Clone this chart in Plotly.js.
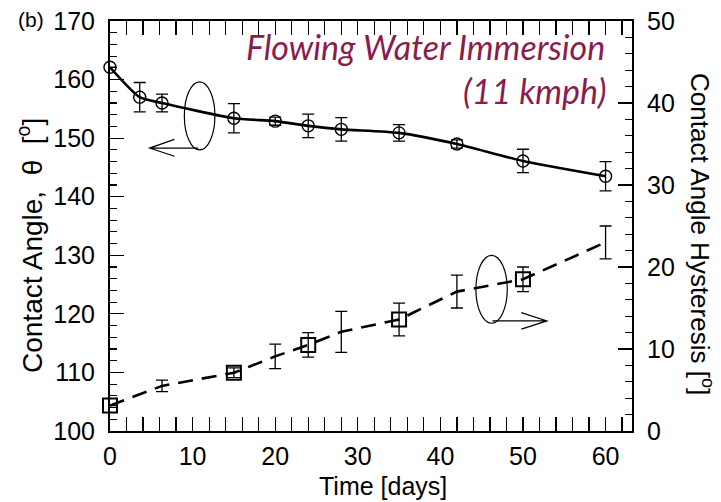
<!DOCTYPE html>
<html>
<head>
<meta charset="utf-8">
<script src="https://cdn.plot.ly/plotly-3.0.1.min.js"></script>
<style>html,body{margin:0;padding:0;background:#fff;}#chart{width:721px;height:502px;}</style>
</head>
<body>
<div id="chart"></div>
<script>
// ---- data ----
var angleDays = [0, 3.6, 6.3, 15, 20, 24, 28, 35, 42, 50, 60];
var contactAngle = [162.1, 157.0, 156.0, 153.4, 152.9, 152.1, 151.5, 150.9, 149.0, 146.1, 143.5];
var contactAngleErr = [0, 2.5, 1.5, 2.5, 0.7, 2.0, 2.0, 1.4, 0.7, 2.0, 2.5];

var hystDays = [0, 6.3, 15, 20, 24, 28, 35, 42, 50, 60];
var hysteresis = [3.1, 5.5, 7.1, 9.1, 10.5, 12.1, 13.6, 17.0, 18.5, 23.0];
var hysteresisErr = [0, 0.7, 0.6, 1.5, 1.5, 2.5, 2.0, 2.0, 1.5, 2.0];
var hystMarked = [true, false, true, false, true, false, true, false, true, false];

var xTickVals = [0, 10, 20, 30, 40, 50, 60];
var yTickVals = [100, 110, 120, 130, 140, 150, 160, 170];
var y2TickVals = [0, 10, 20, 30, 40, 50];

// ---- traces ----
var FONT = 'Liberation Sans, Arial, sans-serif';

var traceAngle = {
  x: angleDays, y: contactAngle, type: 'scatter', mode: 'lines+markers',
  yaxis: 'y', cliponaxis: false, showlegend: false,
  line: {color: '#000', width: 2.6, shape: 'spline', smoothing: 0.6},
  marker: {symbol: 'circle-open', size: 12, color: '#000', line: {width: 1.4, color: '#000'}},
  error_y: {type: 'data', array: contactAngleErr, visible: true, color: '#000', thickness: 1.3, width: 6}
};

var traceHyst = {
  x: hystDays, y: hysteresis, type: 'scatter', mode: 'lines+markers',
  yaxis: 'y2', cliponaxis: false, showlegend: false,
  line: {color: '#000', width: 2.6, dash: '15px,9px'},
  marker: {symbol: 'square-open', color: '#000', opacity: 1,
           size: hystMarked.map(function (m) { return m ? 14 : 0; }),
           line: {width: 2, color: '#000'}},
  error_y: {type: 'data', array: hysteresisErr, visible: true, color: '#000', thickness: 1.3, width: 6}
};

// ---- decorations (ellipses + arrows), in left-axis data units ----
var thin = {color: '#000', width: 1.2};
var shapes = [
  {type: 'circle', xref: 'x', yref: 'y', x0: 9.0, x1: 12.7, y0: 148.0, y1: 159.6, line: thin},
  {type: 'path', xref: 'x', yref: 'y', line: thin,
   path: 'M 10.7,148.3 L 4.8,148.3 M 7.8,149.8 L 4.8,148.3 L 7.8,146.9'},
  {type: 'circle', xref: 'x', yref: 'y', x0: 44.3, x1: 48.1, y0: 118.4, y1: 130.0, line: thin},
  {type: 'path', xref: 'x', yref: 'y', line: thin,
   path: 'M 46.3,118.8 L 52.9,118.8 M 49.8,120.2 L 52.9,118.8 L 49.8,117.4'}
];

var titleColor = '#8b1d4b';
function px(x) { return (x - 110) / 522; }
function py(y) { return (431 - y) / 410; }
var annotations = [
  {xref: 'paper', yref: 'paper', x: px(16), y: py(19), xanchor: 'left', yanchor: 'middle', showarrow: false,
   text: '(b)', font: {family: FONT, size: 21, color: '#000'}},
  {xref: 'paper', yref: 'paper', x: px(607), y: py(46), xanchor: 'right', yanchor: 'middle',
   showarrow: false, text: '<i>Flowing Water Immersion</i>',
   font: {family: 'Lato, Open Sans, sans-serif', size: 34, color: titleColor}},
  {xref: 'paper', yref: 'paper', x: px(609), y: py(90), xanchor: 'right', yanchor: 'middle',
   showarrow: false, text: '<i>(11 kmph)</i>',
   font: {family: 'Lato, Open Sans, sans-serif', size: 34, color: titleColor}},
  {xref: 'paper', yref: 'paper', x: px(30), y: py(246), xanchor: 'center', yanchor: 'middle',
   showarrow: false, textangle: -90, text: 'Contact Angle, &nbsp;θ &nbsp;[<sup>o</sup>]',
   font: {family: FONT, size: 28, color: '#000'}},
  {xref: 'paper', yref: 'paper', x: px(702), y: py(234), xanchor: 'center', yanchor: 'middle',
   showarrow: false, textangle: 90, text: 'Contact Angle Hysteresis [<sup>o</sup>]',
   font: {family: FONT, size: 26, color: '#000'}},
  {xref: 'paper', yref: 'paper', x: px(383), y: py(486), xanchor: 'center', yanchor: 'middle',
   showarrow: false, text: 'Time [days]', font: {family: FONT, size: 25, color: '#000'}}
];

var axisCommon = {
  showgrid: false, zeroline: false, showline: true, linecolor: '#000', linewidth: 2,
  ticks: 'inside', ticklen: 14, tickwidth: 1.2, tickcolor: '#000',
  tickfont: {family: FONT, size: 25, color: '#000'},
  minor: {dtick: 2, ticks: 'inside', ticklen: 7, tickwidth: 1.2, tickcolor: '#000'}
};

var layout = {
  width: 721, height: 502,
  margin: {l: 110, r: 89, t: 21, b: 71, pad: 0},
  paper_bgcolor: '#fff', plot_bgcolor: '#fff',
  showlegend: false,
  xaxis: Object.assign({}, axisCommon, {range: [0, 63.2], tickvals: xTickVals, ticktext: xTickVals.map(String),
    mirror: 'allticks', ticklabelstandoff: 2}),
  yaxis: Object.assign({}, axisCommon, {range: [100, 170], tickvals: yTickVals, ticktext: yTickVals.map(String),
    ticklabelstandoff: 8}),
  yaxis2: Object.assign({}, axisCommon, {range: [0, 50], tickvals: y2TickVals, ticktext: y2TickVals.map(String),
    overlaying: 'y', side: 'right', ticklabelstandoff: 8}),
  shapes: shapes,
  annotations: annotations
};

Plotly.newPlot('chart', [traceAngle, traceHyst], layout, {displayModeBar: false, staticPlot: true});
</script>
</body>
</html>
